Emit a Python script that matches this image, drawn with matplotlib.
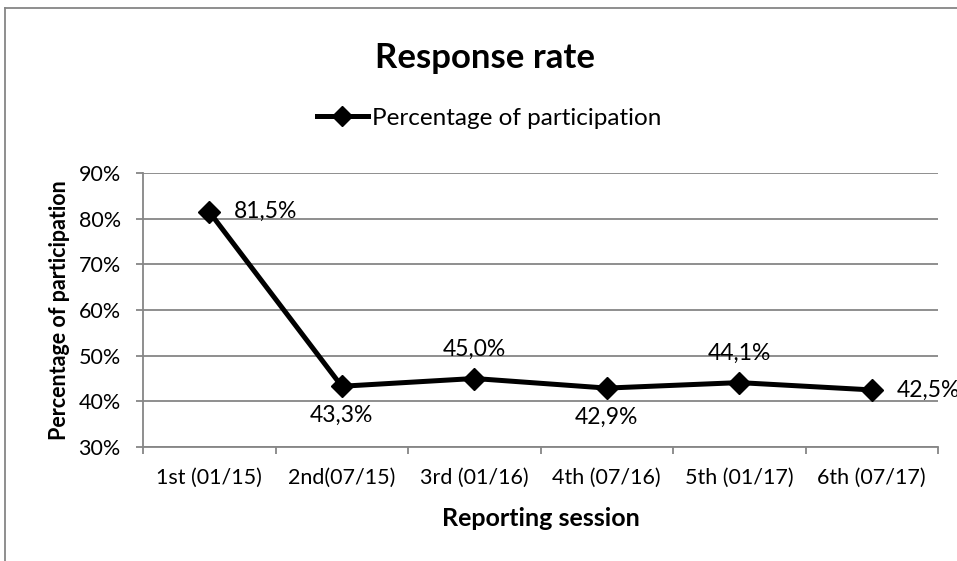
import matplotlib
matplotlib.use("Agg")
import matplotlib.pyplot as plt
from matplotlib.lines import Line2D
from matplotlib.ticker import FixedLocator, FuncFormatter

plt.rcParams['font.family'] = ['Lato', 'DejaVu Sans']

sessions = ["1st (01/15)", "2nd(07/15)", "3rd (01/16)", "4th (07/16)", "5th (01/17)", "6th (07/17)"]
participation = [81.5, 43.3, 45.0, 42.9, 44.1, 42.5]
label_pos = ["right", "below", "above", "below", "above", "right"]

W, H = 957, 561
fig = plt.figure(figsize=(W / 100, H / 100), dpi=100)
ax = fig.add_axes([143 / W, 1 - 447 / H, (938 - 143) / W, (447 - 173) / H])

grey = "#868686"
x = list(range(len(sessions)))
ax.plot(x, participation, color="black", lw=3.6, marker="D", ms=11,
        solid_joinstyle="miter", label="Percentage of participation", zorder=3)

offsets = {"right": (18, 0, "left", "center"),
           "below": (0, -21, "center", "center"),
           "above": (0, 21, "center", "center")}
for xi, v, pos in zip(x, participation, label_pos):
    dx, dy, ha, va = offsets[pos]
    ax.annotate(f"{v:.1f}%".replace(".", ","), (xi, v), xytext=(dx, dy),
                textcoords="offset points", ha=ha, va=va, fontsize=16.5,
                annotation_clip=False)

ax.set_xlim(-0.5, len(sessions) - 0.5)
ax.set_ylim(30, 90)
ax.set_yticks(range(30, 91, 10))
ax.yaxis.set_major_formatter(FuncFormatter(lambda v, p: f"{v:.0f}%"))
ax.grid(axis="y", color=grey, lw=1.3)
ax.set_axisbelow(True)

ax.xaxis.set_major_locator(FixedLocator([i - 0.5 for i in range(len(sessions) + 1)]))
ax.xaxis.set_major_formatter(FuncFormatter(lambda v, p: ""))
ax.xaxis.set_minor_locator(FixedLocator(x))
ax.set_xticklabels(sessions, minor=True)
ax.tick_params(axis="x", which="minor", length=0, pad=15, labelsize=15.5)
ax.tick_params(axis="x", which="major", length=5, width=1.3, color=grey)
ax.tick_params(axis="y", length=5, width=1.3, color=grey, pad=11, labelsize=15.5)

for s in ["top", "right"]:
    ax.spines[s].set_visible(False)
for s in ["left", "bottom"]:
    ax.spines[s].set_color(grey)
    ax.spines[s].set_linewidth(1.3)

ax.set_xlabel("Reporting session", fontsize=18, fontweight="bold", labelpad=14)
ax.set_ylabel("Percentage of participation", fontsize=15.5, fontweight="bold", labelpad=6)

fig.text(485 / W, 1 - 58 / H, "Response rate", ha="center", va="center",
         fontsize=25, fontweight="bold")
fig.legend(loc="center", bbox_to_anchor=(489 / W, 1 - 118 / H), frameon=False,
           fontsize=17.5, handlelength=2.1, handletextpad=0.15, markerscale=0.9)

# chart frame
fig.add_artist(Line2D([5 / W, 1], [1 - 8 / H, 1 - 8 / H], color=grey, lw=1.3,
                      transform=fig.transFigure))
fig.add_artist(Line2D([5 / W, 5 / W], [0, 1 - 8 / H], color=grey, lw=1.3,
                      transform=fig.transFigure))

fig.savefig("out.png", dpi=100)
